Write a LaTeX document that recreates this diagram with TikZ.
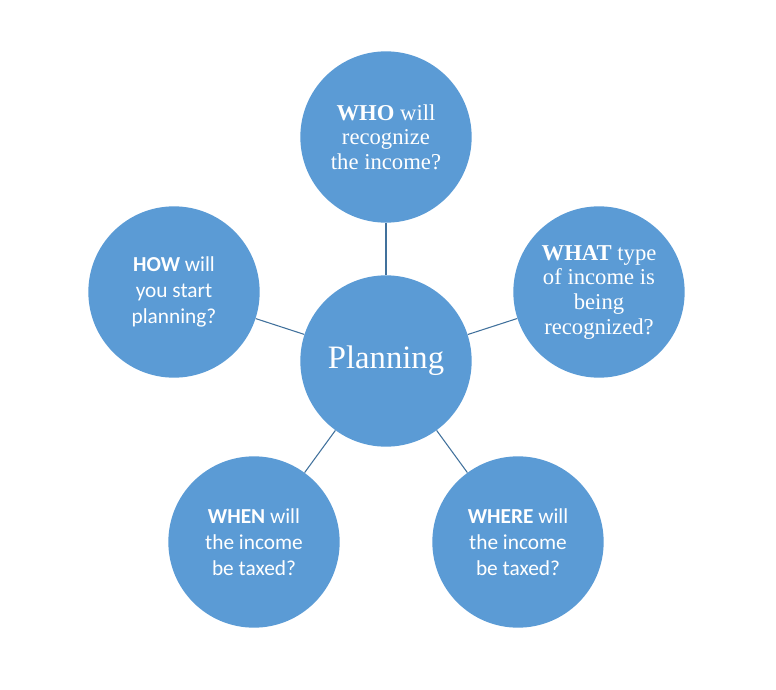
\documentclass[tikz,border=0pt]{standalone}
\usepackage{fontspec}
\setmainfont{Liberation Serif}
\newfontfamily\calibri{Carlito}
\usetikzlibrary{calc,positioning}
\definecolor{planblue}{RGB}{91,155,213}
\definecolor{linkblue}{RGB}{65,113,156}
\tikzset{
  bubble/.style={circle,fill=planblue,text=white,align=center,
    minimum size=128.5pt,inner sep=0pt,font=\fontsize{17}{18.5}\selectfont},
  sansbubble/.style={bubble,font=\calibri\fontsize{16}{19.3}\selectfont},
  hub/.style={bubble,font=\fontsize{24.5}{27}\selectfont},
  link/.style={draw=linkblue,line width=0.8pt}
}

\begin{document}
\begin{tikzpicture}[x=0.75pt,y=-0.75pt]
  % Cinco preguntas alrededor del centro, unidas por radios.
  \useasboundingbox (0,0) rectangle (776,690);

  \node[hub] (plan) at (386,361) {Planning};

  \node[bubble] (who) at (386,137) {\textbf{WHO} will\\recognize\\the income?};
  \node[bubble] (what) at (599,292) {\textbf{WHAT} type\\of income is\\being\\recognized?};
  \node[sansbubble] (how) at (174,292) {\textbf{HOW} will\\you start\\planning?};
  \node[sansbubble] (when) at (254,542) {\textbf{WHEN} will\\the income\\be taxed?};
  \node[sansbubble] (where) at (518,542) {\textbf{WHERE} will\\the income\\be taxed?};

  \foreach \q in {who,what,how,when,where}{
    \draw[link] (plan) -- (\q);
  }
\end{tikzpicture}
\end{document}
